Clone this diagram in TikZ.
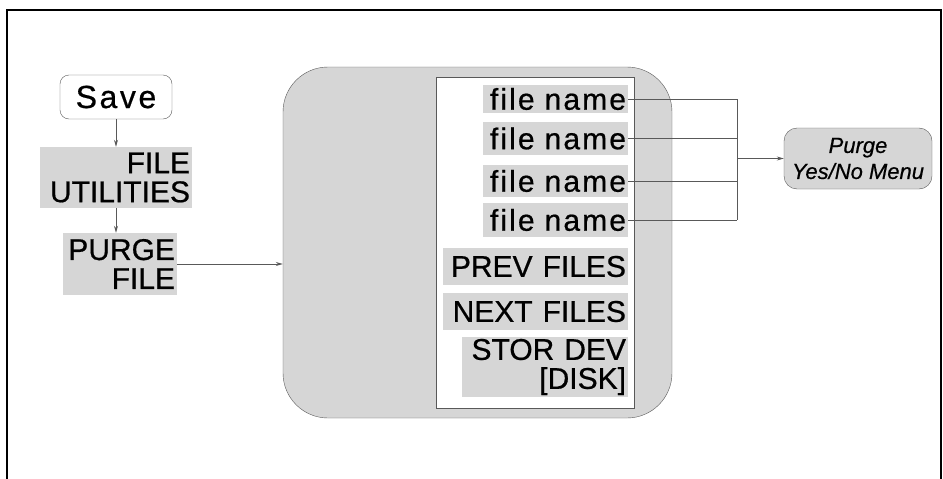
\documentclass[tikz,border=0pt]{standalone}
\usepackage{fontspec}
\setmainfont[FakeBold=0.6]{Liberation Sans}
\usetikzlibrary{arrows.meta}
\definecolor{shade}{gray}{0.84}
\definecolor{edge}{gray}{0.35}
\begin{document}
\begin{tikzpicture}[x=1pt,y=-1pt,
  lbl/.style={fill=shade, draw=none, inner xsep=2pt, inner ysep=0pt, align=right,
              font=\fontsize{30}{29}\selectfont},
  fnm/.style={lbl, text width=141pt, font=\fontsize{30}{29}\selectfont\addfontfeature{LetterSpace=7}},
  line/.style={draw=edge, line width=0.8pt},
  arr/.style={line, -{Stealth[length=7pt,width=4pt]}}]
\useasboundingbox (0,0) rectangle (943,479);
\clip (0,0) rectangle (943,479);
\draw[line width=2pt] (7,10) rectangle (941,490);

% left column
\node[draw=edge, fill=white, rounded corners=9pt, minimum width=112pt, minimum height=44pt,
      inner sep=0pt, font=\fontsize{32}{32}\selectfont\addfontfeature{LetterSpace=8}] (save) at (116,97) {Save};
\node[lbl, text width=148pt, minimum height=61pt] (fu) at (116,177.5) {FILE\\UTILITIES};
\node[lbl, text width=110pt, minimum height=62pt] (pf) at (120,264) {PURGE\\FILE};

\draw[arr] (save.south) -- (save.south |- fu.north);
\draw[arr] (fu.south) -- (fu.south |- pf.north);

% big rounded box
\node[draw=edge, fill=shade, rounded corners=45pt, minimum width=389pt, minimum height=351pt,
      inner sep=0pt] (big) at (477.5,242.5) {};
\node[draw=edge, fill=white, minimum width=198pt, minimum height=331pt, inner sep=0pt]
      (menu) at (535,242.5) {};
\draw[arr] (pf.east) -- (pf.east -| big.west);

% menu labels
\node[fnm, minimum height=28pt] (fn1) at (555.5,99) {file name};
\node[fnm, minimum height=33pt] (fn2) at (555.5,138.5) {file name};
\node[fnm, minimum height=32pt] (fn3) at (555.5,181) {file name};
\node[fnm, minimum height=34pt] (fn4) at (555.5,220) {file name};
\node[lbl, text width=181pt, minimum height=37pt] (prev) at (535.5,266.5) {PREV FILES};
\node[lbl, text width=181pt, minimum height=37pt] (next) at (535.5,311.5) {NEXT FILES};
\node[lbl, text width=162pt, minimum height=60pt] (stor) at (545,367) {STOR DEV\\{}[DISK]};

% purge menu
\node[draw=edge, fill=shade, rounded corners=13pt, minimum width=148pt, minimum height=61pt,
      inner sep=0pt, align=center, font=\fontsize{22}{26}\itshape] (purge) at (858,158.5)
      {Purge\\Yes/No Menu};

\coordinate (j) at (737,158.5);
\draw[line] (fn1.east) -- (fn1.east -| j);
\draw[line] (fn2.east) -- (fn2.east -| j);
\draw[line] (fn3.east) -- (fn3.east -| j);
\draw[line] (fn4.east) -- (fn4.east -| j);
\draw[line] (fn1.east -| j) -- (fn4.east -| j);
\draw[arr] (j) -- (purge.west);
\end{tikzpicture}
\end{document}
